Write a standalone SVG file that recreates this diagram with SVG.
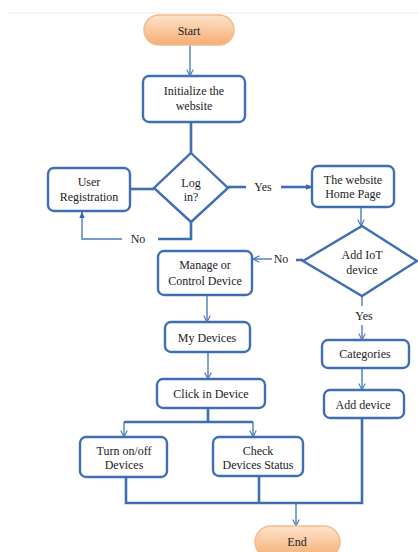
<svg xmlns="http://www.w3.org/2000/svg" width="418" height="552" viewBox="0 0 418 552">
<defs>
<linearGradient id="og" x1="0" y1="0" x2="0" y2="1">
<stop offset="0" stop-color="#fde3cb"/>
<stop offset="1" stop-color="#f6ad72"/>
</linearGradient>
<marker id="ah" viewBox="0 0 10 10" refX="9" refY="5" markerWidth="8" markerHeight="8" orient="auto" markerUnits="userSpaceOnUse">
<path d="M1,1 L9,5 L1,9" fill="none" stroke="#4a7cbd" stroke-width="1.4"/>
</marker>
<marker id="af" viewBox="0 0 10 10" refX="9" refY="5" markerWidth="7" markerHeight="7" orient="auto" markerUnits="userSpaceOnUse">
<path d="M0,1 L10,5 L0,9 z" fill="#3c6aa8"/>
</marker>
</defs>
<style>
.box{fill:#fff;stroke:#3f6fb2;stroke-width:2.4}
.term{fill:url(#og);stroke:#f3bb90;stroke-width:1.5}
.t{font-family:"Liberation Serif",serif;font-size:12px;fill:#222;text-anchor:middle}
.thin{fill:none;stroke:#4a7cbd;stroke-width:1.4}
.thick{fill:none;stroke:#3f6fb2;stroke-width:2.6}
</style>
<rect x="0" y="0" width="418" height="552" fill="#fff"/>
<line x1="8" y1="13" x2="418" y2="13" stroke="#ececec" stroke-width="1"/>
<g id="connectors">
<line class="thin" x1="190" y1="45" x2="190" y2="76" marker-end="url(#ah)"/>
<line class="thick" x1="191" y1="122" x2="191" y2="153"/>
<line class="thick" x1="130" y1="189" x2="154" y2="189"/>
<polyline class="thick" points="191,222 191,239 158,239"/>
<polyline class="thin" points="122,239 82,239 82,212" marker-end="url(#af)"/>
<text class="t" x="138" y="243">No</text>
<line class="thick" x1="228" y1="187" x2="246" y2="187"/>
<text class="t" x="263" y="191">Yes</text>
<line class="thick" x1="281" y1="187" x2="312" y2="187" marker-end="url(#af)"/>
<line class="thin" x1="361" y1="207" x2="361" y2="226" marker-end="url(#ah)"/>
<line class="thick" x1="303" y1="260" x2="296" y2="260"/>
<text class="t" x="281" y="263">No</text>
<line class="thin" x1="272" y1="259" x2="253" y2="259" marker-end="url(#ah)"/>
<line class="thin" x1="207" y1="295" x2="207" y2="322" marker-end="url(#ah)"/>
<line class="thin" x1="208" y1="352" x2="208" y2="379" marker-end="url(#ah)"/>
<polyline class="thick" points="208,408 208,422"/>
<line class="thick" x1="124" y1="422" x2="253" y2="422"/>
<line class="thin" x1="124" y1="422" x2="124" y2="437" marker-end="url(#ah)"/>
<line class="thin" x1="253" y1="422" x2="253" y2="437" marker-end="url(#ah)"/>
<line class="thin" x1="362" y1="296" x2="362" y2="306"/>
<text class="t" x="364" y="320">Yes</text>
<line class="thin" x1="362" y1="325" x2="362" y2="340" marker-end="url(#ah)"/>
<line class="thin" x1="362" y1="368" x2="362" y2="390" marker-end="url(#ah)"/>
<polyline class="thick" points="126,477 126,503 362,503 362,418"/>
<line class="thick" x1="259" y1="477" x2="259" y2="503"/>
<line class="thin" x1="296" y1="503" x2="296" y2="526" marker-end="url(#ah)"/>
</g>
<g id="start">
<rect class="term" x="144" y="15" width="90" height="30" rx="15"/>
<text class="t" x="189" y="35">Start</text>
</g>
<g id="init">
<rect class="box" x="143" y="76" width="102" height="46" rx="6"/>
<text class="t" x="194" y="95">Initialize the</text>
<text class="t" x="194" y="110">website</text>
</g>
<g id="login">
<polygon class="box" points="191,153 228,188 191,222 154,188"/>
<text class="t" x="191" y="187">Log</text>
<text class="t" x="191" y="201">in?</text>
</g>
<g id="userreg">
<rect class="box" x="48" y="168" width="82" height="43" rx="6"/>
<text class="t" x="89" y="186">User</text>
<text class="t" x="89" y="201">Registration</text>
</g>
<g id="home">
<rect class="box" x="312" y="166" width="82" height="41" rx="6"/>
<text class="t" x="353" y="184">The website</text>
<text class="t" x="353" y="198">Home Page</text>
</g>
<g id="addiot">
<polygon class="box" points="362,226 417,261 362,296 303,261"/>
<text class="t" x="362" y="259">Add IoT</text>
<text class="t" x="362" y="274">device</text>
</g>
<g id="manage">
<rect class="box" x="158" y="251" width="94" height="44" rx="6"/>
<text class="t" x="205" y="269">Manage or</text>
<text class="t" x="205" y="285">Control Device</text>
</g>
<g id="mydevices">
<rect class="box" x="165" y="322" width="85" height="30" rx="6"/>
<text class="t" x="207" y="342">My Devices</text>
</g>
<g id="click">
<rect class="box" x="157" y="379" width="108" height="29" rx="6"/>
<text class="t" x="211" y="398">Click in Device</text>
</g>
<g id="turn">
<rect class="box" x="80" y="437" width="87" height="40" rx="6"/>
<text class="t" x="124" y="455">Turn on/off</text>
<text class="t" x="124" y="469">Devices</text>
</g>
<g id="check">
<rect class="box" x="213" y="437" width="90" height="39" rx="6"/>
<text class="t" x="258" y="455">Check</text>
<text class="t" x="258" y="469">Devices Status</text>
</g>
<g id="categories">
<rect class="box" x="322" y="340" width="87" height="28" rx="6"/>
<text class="t" x="365" y="358">Categories</text>
</g>
<g id="adddevice">
<rect class="box" x="324" y="390" width="80" height="28" rx="6"/>
<text class="t" x="363" y="409">Add device</text>
</g>
<g id="end">
<rect class="term" x="255" y="526" width="85" height="32" rx="16"/>
<text class="t" x="297" y="546">End</text>
</g>
</svg>
